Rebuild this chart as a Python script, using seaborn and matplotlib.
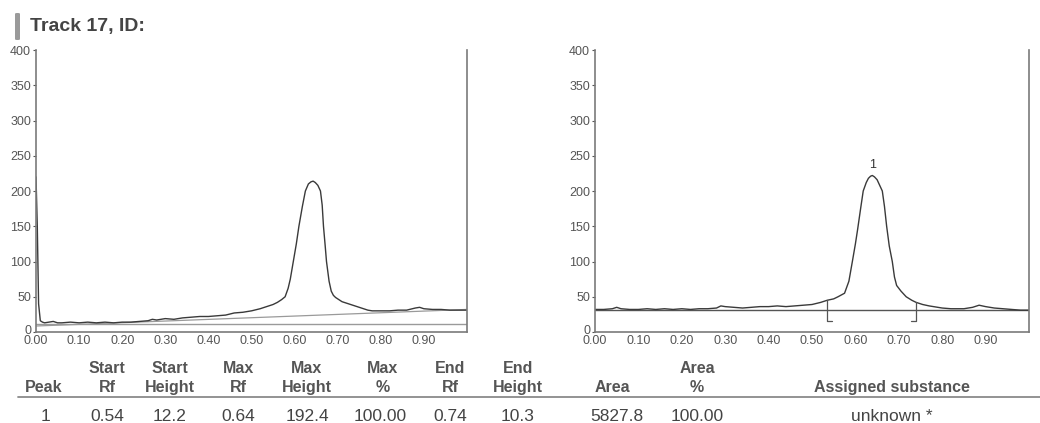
import numpy as np
import pandas as pd
import matplotlib
matplotlib.use("Agg")
import matplotlib.pyplot as plt
import matplotlib.transforms as mtransforms
from matplotlib.lines import Line2D
from matplotlib.patches import FancyBboxPatch
import seaborn as sns

# ---------------- data ----------------
title = "Track 17, ID:"

left_rf = [0.000, 0.003, 0.006, 0.010, 0.015, 0.02, 0.03, 0.04, 0.05, 0.06, 0.08,
           0.10, 0.12, 0.14, 0.16, 0.18, 0.20, 0.22, 0.24, 0.26, 0.27, 0.28, 0.30,
           0.32, 0.34, 0.36, 0.38, 0.40, 0.42, 0.44, 0.46, 0.48, 0.50, 0.52, 0.54,
           0.55, 0.56, 0.57, 0.578, 0.585, 0.59, 0.597, 0.604, 0.61, 0.618, 0.625,
           0.632, 0.638, 0.643, 0.648, 0.654, 0.66, 0.664, 0.667, 0.671, 0.674,
           0.68, 0.685, 0.69, 0.695, 0.70, 0.71, 0.72, 0.73, 0.74, 0.76, 0.77,
           0.78, 0.80, 0.82, 0.84, 0.86, 0.88, 0.89, 0.90, 0.92, 0.94, 0.96, 0.98, 1.00]
left_h = [220, 150, 40, 16, 14, 13, 14, 15, 13, 13, 14,
          13, 14, 13, 14, 13, 14, 14, 15, 16, 18, 17, 19,
          18, 20, 21, 22, 22, 23, 24, 27, 28, 30, 33, 37,
          39, 42, 46, 50, 62, 75, 100, 125, 150, 178, 200,
          210, 213, 214, 212, 208, 200, 180, 150, 122, 100,
          72, 58, 52, 49, 47, 43, 41, 39, 37, 33, 31,
          30, 30, 30, 31, 31, 34, 35, 33, 32, 32, 31, 31, 31]

left_base_rf = [0.0, 1.0]
left_base_h = [8.5, 32.0]
left_floor_h = [12.0, 12.0]

right_rf = [0.000, 0.02, 0.04, 0.05, 0.06, 0.08, 0.10, 0.12, 0.14, 0.16, 0.18,
            0.20, 0.22, 0.24, 0.26, 0.28, 0.29, 0.30, 0.32, 0.34, 0.36, 0.38,
            0.40, 0.42, 0.44, 0.46, 0.48, 0.50, 0.52, 0.535, 0.55, 0.56, 0.575,
            0.585, 0.593, 0.60, 0.605, 0.612, 0.618, 0.625, 0.63, 0.635, 0.639,
            0.644, 0.65, 0.656, 0.662, 0.667, 0.672, 0.678, 0.685, 0.69, 0.695,
            0.705, 0.717, 0.73, 0.74, 0.755, 0.77, 0.80, 0.82, 0.85, 0.87, 0.885,
            0.90, 0.92, 0.94, 0.96, 0.98, 1.00]
right_h = [32, 32, 33, 35, 33, 32, 32, 33, 32, 33, 32,
           33, 32, 33, 33, 34, 37, 36, 35, 34, 35, 36,
           36, 37, 36, 37, 38, 39, 42, 45, 47, 50, 55,
           72, 100, 125, 145, 175, 200, 212, 218, 221, 222,
           220, 216, 208, 200, 178, 150, 122, 100, 78, 66,
           58, 50, 45, 42, 39, 37, 34, 33, 33, 35, 38,
           36, 34, 33, 32, 31, 31]

right_base_rf = [0.0, 1.0]
right_base_h = [31.0, 31.0]

peak_label = "1"
peak_rf = 0.639
peak_h = 222
start_rf = 0.535
end_rf = 0.74
start_top = 45
end_top = 42
bracket_bottom = 15

x_ticks = [0.00, 0.10, 0.20, 0.30, 0.40, 0.50, 0.60, 0.70, 0.80, 0.90]
x_tick_labels = ["0.00", "0.10", "0.20", "0.30", "0.40", "0.50", "0.60", "0.70", "0.80", "0.90"]
y_ticks = [0, 50, 100, 150, 200, 250, 300, 350, 400]

table_headers = [("", "Peak"), ("Start", "Rf"), ("Start", "Height"), ("Max", "Rf"),
                 ("Max", "Height"), ("Max", "%"), ("End", "Rf"), ("End", "Height"),
                 ("", "Area"), ("Area", "%"), ("", "Assigned substance")]
table_row = ["1", "0.54", "12.2", "0.64", "192.4", "100.00", "0.74", "10.3",
             "5827.8", "100.00", "unknown *"]
col_x_px = [44, 107, 170, 238, 307, 383, 450, 518, 612, 697, 892]
data_x_px = [45, 107, 170, 238, 307, 380, 450, 518, 617, 697, 892]

# ---------------- style ----------------
sns.set_theme(style="white")
plt.rcParams["font.family"] = ["Liberation Sans", "DejaVu Sans"]

W, H = 1040, 423
fig = plt.figure(figsize=(W / 100, H / 100), dpi=100)

def fx(px):
    return px / W

def fy(py):
    return 1 - py / H

curve_col = "#3a3a3a"
axis_col = "#7a7a7a"
tick_col = "#555555"

def style_axes(ax):
    ax.set_xlim(0, 1.0)
    ax.set_ylim(0, 400)
    ax.set_xticks(x_ticks)
    ax.set_xticklabels(x_tick_labels)
    ax.set_yticks(y_ticks)
    ax.set_yticklabels([str(v) for v in y_ticks])
    for s in ["left", "right", "bottom"]:
        ax.spines[s].set_visible(True)
        ax.spines[s].set_color(axis_col)
        ax.spines[s].set_linewidth(1.2)
    ax.spines["top"].set_visible(False)
    ax.tick_params(axis="both", which="both", labelsize=9, colors=tick_col,
                   length=2.5, width=0.8, left=True, bottom=False)
    ax.tick_params(axis="y", pad=1)
    ax.tick_params(axis="x", pad=0)
    ax.set_xlabel("")
    ax.set_ylabel("")
    ax.grid(False)
    # the "0" label sits slightly above the axis line, as in the reference
    off = mtransforms.ScaledTranslation(0, 2 / 72, fig.dpi_scale_trans)
    for lbl in ax.get_yticklabels():
        if lbl.get_text() == "0":
            lbl.set_transform(lbl.get_transform() + off)

def line(ax, x, y, **kw):
    sns.lineplot(x=x, y=y, ax=ax, estimator=None, sort=False, **kw)

# left chart
ax1 = fig.add_axes([fx(36), fy(332), fx(467 - 36), (332 - 50) / H])
line(ax1, left_base_rf, left_floor_h, color="#9a9a9a", lw=1.0)
line(ax1, left_base_rf, left_base_h, color="#9a9a9a", lw=0.9)
line(ax1, left_rf, left_h, color=curve_col, lw=1.0)
style_axes(ax1)

# right chart
ax2 = fig.add_axes([fx(595), fy(332), fx(1029 - 595), (332 - 50) / H])
line(ax2, right_base_rf, right_base_h, color="#555555", lw=1.0)
line(ax2, right_rf, right_h, color=curve_col, lw=1.0)
style_axes(ax2)
# peak borders
line(ax2, [start_rf, start_rf, start_rf + 0.012], [start_top, bracket_bottom, bracket_bottom],
     color="#555555", lw=0.9)
line(ax2, [end_rf, end_rf, end_rf - 0.012], [end_top, bracket_bottom, bracket_bottom],
     color="#555555", lw=0.9)
ax2.text(peak_rf, peak_h + 6, peak_label, ha="center", va="bottom", fontsize=9, color="#333333")

# title
fig.add_artist(FancyBboxPatch((fx(15), fy(40)), fx(5), (40 - 13) / H,
                              boxstyle="round,pad=0,rounding_size=0.002",
                              transform=fig.transFigure, facecolor="#9a9a9a",
                              edgecolor="none"))
fig.text(fx(30), fy(27), title, fontsize=14, fontweight="bold", color="#444444",
         ha="left", va="center")

# table
hdr_col = "#555555"
for (h1, h2), xp in zip(table_headers, col_x_px):
    if h1:
        fig.text(fx(xp), fy(373), h1, ha="center", va="baseline", fontsize=11.5,
                 fontweight="bold", color=hdr_col)
    fig.text(fx(xp), fy(392), h2, ha="center", va="baseline", fontsize=11.5,
             fontweight="bold", color=hdr_col)

fig.add_artist(Line2D([fx(18), 1.0], [fy(397), fy(397)], transform=fig.transFigure,
                      color="#8a8a8a", lw=1.3))

for val, xp in zip(table_row, data_x_px):
    fig.text(fx(xp), fy(421), val, ha="center", va="baseline", fontsize=12.5,
             color="#444444")

fig.savefig("out.png", dpi=100, facecolor="white")
